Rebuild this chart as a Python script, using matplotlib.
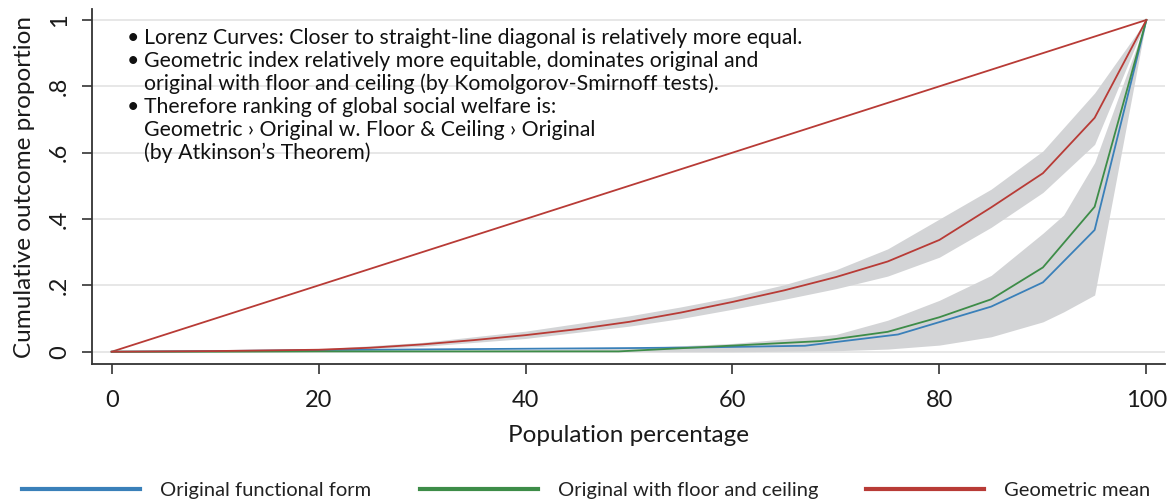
import matplotlib
matplotlib.use("Agg")
import matplotlib.pyplot as plt
import numpy as np

plt.rcParams['font.family'] = ['Lato', 'DejaVu Sans']

# Lorenz curve points (population %, cumulative outcome share)
orig_x = [0, 10, 20, 30, 40, 50, 57, 67, 76, 85, 90, 95, 100]
orig_y = [0, 0.002, 0.005, 0.007, 0.009, 0.011, 0.013, 0.018, 0.052, 0.136, 0.209, 0.367, 1]

floor_x = [0, 10, 20, 30, 40, 49, 68.5, 75, 80, 85, 90, 95, 100]
floor_y = [0, 0, 0.001, 0.001, 0.001, 0.001, 0.032, 0.060, 0.104, 0.158, 0.254, 0.437, 1]

geo_x = [0, 10, 20, 25, 30, 35, 40, 45, 50, 55, 60, 65, 70, 75, 80, 85, 90, 95, 100]
geo_y = [0, 0.002, 0.006, 0.012, 0.022, 0.035, 0.050, 0.068, 0.090, 0.118, 0.150,
         0.185, 0.225, 0.272, 0.337, 0.435, 0.538, 0.705, 1]

# confidence bands
geo_band_x = [0, 20, 30, 40, 50, 55, 60, 65, 70, 75, 80, 85, 90, 95, 100]
geo_hi = [0, 0.008, 0.028, 0.062, 0.108, 0.135, 0.165, 0.202, 0.247, 0.310, 0.400, 0.490, 0.605, 0.780, 1]
geo_lo = [0, 0.004, 0.016, 0.040, 0.077, 0.100, 0.128, 0.158, 0.190, 0.228, 0.285, 0.375, 0.480, 0.625, 1]

orig_band_x = [0, 40, 50, 60, 70, 75, 80, 85, 90, 92, 95, 100]
orig_hi = [0, 0.006, 0.011, 0.025, 0.052, 0.095, 0.155, 0.230, 0.357, 0.412, 0.570, 1]
orig_lo = [0, 0, 0, 0, 0.003, 0.008, 0.020, 0.045, 0.090, 0.120, 0.171, 1]

labels = ["Original functional form", "Original with floor and ceiling", "Geometric mean"]
colors = ["#3a80b9", "#3d8c48", "#b83b36"]

notes = [
    ("\u2022", "Lorenz Curves: Closer to straight-line diagonal is relatively more equal."),
    ("\u2022", "Geometric index relatively more equitable, dominates original and"),
    ("", "original with floor and ceiling (by Komolgorov-Smirnoff tests)."),
    ("\u2022", "Therefore ranking of global social welfare is:"),
    ("", "Geometric \u203a Original w. Floor & Ceiling \u203a Original"),
    ("", "(by Atkinson\u2019s Theorem)"),
]

W, H = 1173, 504
fig = plt.figure(figsize=(W / 100, H / 100), dpi=100)
ax = fig.add_axes([92 / W, 1 - 364 / H, (1165 - 92) / W, (364 - 9) / H])

ax.fill_between(geo_band_x, geo_lo, geo_hi, color="#d3d4d6", lw=0, zorder=1)
ax.fill_between(orig_band_x, orig_lo, orig_hi, color="#d3d4d6", lw=0, zorder=1)

ax.plot([0, 100], [0, 1], color=colors[2], lw=1.3, zorder=3)
ax.plot(orig_x, orig_y, color=colors[0], lw=1.3, zorder=4, label=labels[0])
ax.plot(floor_x, floor_y, color=colors[1], lw=1.3, zorder=4, label=labels[1])
ax.plot(geo_x, geo_y, color=colors[2], lw=1.3, zorder=4, label=labels[2])

ax.set_xlim(-1.9, 101.8)
ax.set_ylim(-0.037, 1.033)
ax.set_xticks([0, 20, 40, 60, 80, 100])
ax.set_yticks([0, 0.2, 0.4, 0.6, 0.8, 1])
ax.set_yticklabels(["0", ".2", ".4", ".6", ".8", "1"], rotation=90, va="center")
ax.yaxis.grid(True, color="#e3e3e3", lw=1.2, zorder=0)
ax.set_axisbelow(True)
for s in ["top", "right"]:
    ax.spines[s].set_visible(False)
for s in ["left", "bottom"]:
    ax.spines[s].set_color("#333333")
    ax.spines[s].set_linewidth(1.3)
ax.tick_params(direction="out", length=7, width=1.2, color="#333333",
               labelsize=17, labelcolor="#1a1a1a")
ax.tick_params(axis="x", pad=12)
ax.tick_params(axis="y", pad=9)

ax.set_xlabel("Population percentage", fontsize=17.5, labelpad=10, color="#1a1a1a")
ax.set_ylabel("Cumulative outcome proportion", fontsize=17.5, labelpad=10, color="#1a1a1a")

y0 = 38
for i, (b, t) in enumerate(notes):
    yy = 1 - (y0 + 23 * i) / H
    if b:
        fig.text(127 / W, yy, b, fontsize=15.3, va="center", color="#111111")
    fig.text(144 / W, yy, t, fontsize=15.3, va="center", color="#111111")

leg = fig.legend(loc="center", bbox_to_anchor=(0.5, 1 - 490 / H), ncol=3, frameon=False,
                 handlelength=5.85, handletextpad=1.0, columnspacing=2.4,
                 prop={"size": 14.5})
for h in leg.legend_handles:
    h.set_linewidth(3)
for t in leg.get_texts():
    t.set_color("#222222")

fig.savefig("out.png", dpi=100)
